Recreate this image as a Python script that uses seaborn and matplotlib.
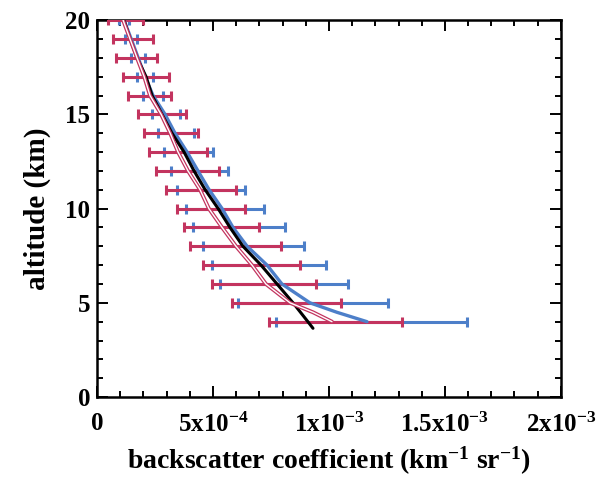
import matplotlib
matplotlib.use("Agg")
import matplotlib.pyplot as plt
import seaborn as sns
import numpy as np
import pandas as pd
from matplotlib.ticker import MultipleLocator, FixedLocator, FixedFormatter

sns.set_style("white")
plt.rcParams['font.family'] = ['Liberation Serif', 'DejaVu Serif']
plt.rcParams['font.weight'] = 'bold'
plt.rcParams['mathtext.fontset'] = 'custom'
plt.rcParams['mathtext.rm'] = 'Liberation Serif:bold'
plt.rcParams['mathtext.bf'] = 'Liberation Serif:bold'
plt.rcParams['mathtext.it'] = 'Liberation Serif:bold'
for k in ['text.color', 'axes.labelcolor', 'xtick.color', 'ytick.color', 'axes.edgecolor']:
    plt.rcParams[k] = 'black'

# ---- data ----
# line profiles
black_alt = [20, 19, 18, 17, 16, 15, 14, 13, 12, 11, 10, 9, 8, 7, 6, 5, 4, 3.65]
black_val = [0.116e-3, 0.142e-3, 0.172e-3, 0.211e-3, 0.237e-3, 0.280e-3, 0.323e-3, 0.375e-3,
             0.418e-3, 0.466e-3, 0.522e-3, 0.573e-3, 0.629e-3, 0.707e-3, 0.776e-3, 0.845e-3,
             0.909e-3, 0.931e-3]

blue_alt = [20, 19, 18, 17, 16, 15, 14, 13, 12, 11, 10, 9, 8, 7, 6, 5, 4.5, 4]
blue_val = [0.116e-3, 0.147e-3, 0.177e-3, 0.207e-3, 0.241e-3, 0.293e-3, 0.336e-3, 0.388e-3,
            0.435e-3, 0.483e-3, 0.539e-3, 0.586e-3, 0.647e-3, 0.733e-3, 0.797e-3, 0.918e-3,
            1.034e-3, 1.164e-3]

red_alt = [20, 19, 18, 17, 16, 15, 14, 13, 12, 11, 10, 9, 8, 7, 6, 5, 4.5, 4]
red_val = [0.112e-3, 0.142e-3, 0.172e-3, 0.203e-3, 0.228e-3, 0.276e-3, 0.315e-3, 0.349e-3,
           0.392e-3, 0.444e-3, 0.482e-3, 0.539e-3, 0.599e-3, 0.668e-3, 0.728e-3, 0.832e-3,
           0.931e-3, 1.013e-3]

# error bars
bar_alt = [20, 19, 18, 17, 16, 15, 14, 13, 12, 11, 10, 9, 8, 7, 6, 5, 4]
red_bar_center = [0.123e-3, 0.155e-3, 0.170e-3, 0.211e-3, 0.226e-3, 0.280e-3, 0.319e-3, 0.349e-3,
                  0.390e-3, 0.448e-3, 0.491e-3, 0.537e-3, 0.597e-3, 0.666e-3, 0.720e-3, 0.817e-3,
                  1.028e-3]
red_bar_err = [0.075e-3, 0.086e-3, 0.088e-3, 0.099e-3, 0.093e-3, 0.103e-3, 0.116e-3, 0.125e-3,
               0.136e-3, 0.151e-3, 0.147e-3, 0.162e-3, 0.196e-3, 0.209e-3, 0.224e-3, 0.235e-3,
               0.287e-3]
blue_bar_center = [0.116e-3, 0.147e-3, 0.177e-3, 0.207e-3, 0.241e-3, 0.297e-3, 0.341e-3, 0.394e-3,
                   0.442e-3, 0.491e-3, 0.552e-3, 0.612e-3, 0.675e-3, 0.741e-3, 0.806e-3, 0.931e-3,
                   1.183e-3]
blue_bar_err = [0.022e-3, 0.026e-3, 0.030e-3, 0.036e-3, 0.043e-3, 0.060e-3, 0.078e-3, 0.106e-3,
                0.123e-3, 0.147e-3, 0.168e-3, 0.198e-3, 0.218e-3, 0.246e-3, 0.276e-3, 0.323e-3,
                0.412e-3]

x_ticks = [0, 5e-4, 1e-3, 1.5e-3, 2e-3]
x_ticklabels = ["0", "5x10$^{-4}$", "1x10$^{-3}$", "1.5x10$^{-3}$", "2x10$^{-3}$"]
y_ticks = [0, 5, 10, 15, 20]

RED = "#c3345f"
BLUE = "#4d7fc9"

fig = plt.figure(figsize=(6.07, 4.79), dpi=100)
ax = fig.add_axes([0.160, 0.171, 0.764, 0.787])

# error bars
ax.errorbar(blue_bar_center, bar_alt, xerr=blue_bar_err, fmt='none', ecolor=BLUE,
            elinewidth=2.2, capsize=3.5, capthick=2.2, zorder=2)
ax.errorbar(red_bar_center, bar_alt, xerr=red_bar_err, fmt='none', ecolor=RED,
            elinewidth=2.2, capsize=3.5, capthick=2.2, zorder=3)

# profiles
df_blue = pd.DataFrame({"x": blue_val, "y": blue_alt})
df_black = pd.DataFrame({"x": black_val, "y": black_alt})
df_red = pd.DataFrame({"x": red_val, "y": red_alt})
sns.lineplot(data=df_blue, x="x", y="y", sort=False, estimator=None, color=BLUE, lw=2.4, ax=ax, zorder=4)
sns.lineplot(data=df_black, x="x", y="y", sort=False, estimator=None, color="black", lw=2.2, ax=ax, zorder=5)
sns.lineplot(data=df_red, x="x", y="y", sort=False, estimator=None, color=RED, lw=2.8, ax=ax, zorder=6)
sns.lineplot(data=df_red, x="x", y="y", sort=False, estimator=None, color="white", lw=1.0, ax=ax, zorder=7)

ax.set_xlim(0, 2e-3)
ax.set_ylim(0, 20)
ax.xaxis.set_major_locator(FixedLocator(x_ticks))
ax.xaxis.set_major_formatter(FixedFormatter(x_ticklabels))
ax.xaxis.set_minor_locator(MultipleLocator(1e-4))
ax.yaxis.set_major_locator(FixedLocator(y_ticks))
ax.yaxis.set_minor_locator(MultipleLocator(1))

ax.tick_params(which='both', direction='in', top=True, right=True, bottom=True, left=True,
               colors='black', width=1.4)
ax.tick_params(which='major', length=8, labelsize=18)
ax.tick_params(axis='x', which='major', pad=11)
ax.tick_params(axis='y', which='major', pad=5)
ax.tick_params(which='minor', length=4)
for lab in ax.get_xticklabels() + ax.get_yticklabels():
    lab.set_fontweight('bold')

for s in ax.spines.values():
    s.set_color('black')
    s.set_linewidth(1.8)

ax.set_xlabel("backscatter coefficient (km$^{-1}$ sr$^{-1}$)", fontsize=20, fontweight='bold', labelpad=6)
ax.set_ylabel("altitude (km)", fontsize=21, fontweight='bold', labelpad=10)

fig.savefig("out.png", dpi=100)
